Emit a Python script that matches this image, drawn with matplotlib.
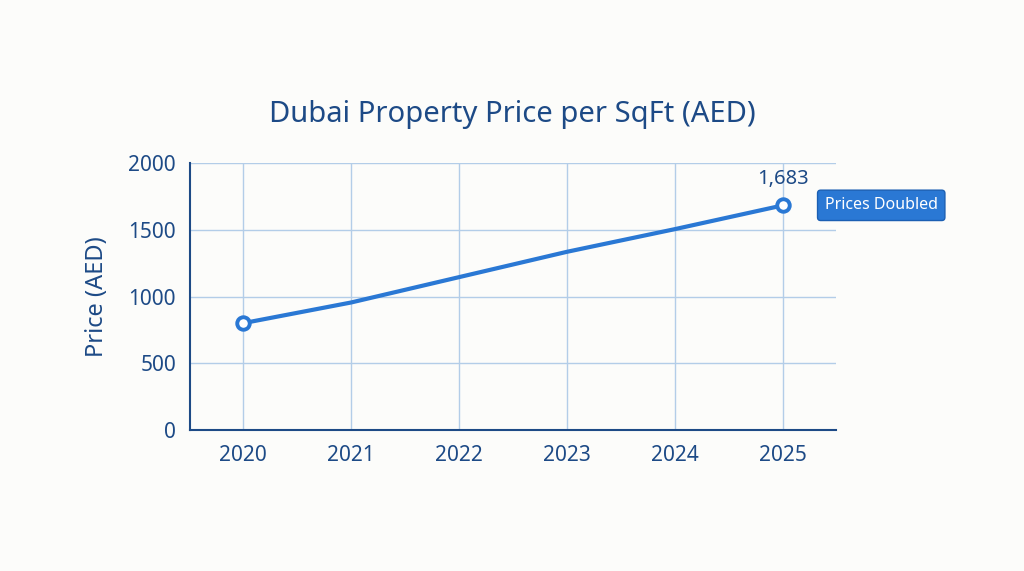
import matplotlib.pyplot as plt

# datos
years = ["2020", "2021", "2022", "2023", "2024", "2025"]
price = [800, 955, 1145, 1335, 1505, 1683]
y_ticks = [0, 500, 1000, 1500, 2000]
peak_label = "1,683"
note_text = "Prices Doubled"

BG = "#fcfcfa"
DARK = "#1d4a86"
LINE = "#2a78d4"
GRID = "#b3cde8"

plt.rcParams["font.family"] = ["Noto Sans", "DejaVu Sans"]

fig = plt.figure(figsize=(10.24, 5.71), dpi=100, facecolor=BG)
ax = fig.add_axes([0.1855, 0.2469, 0.6309, 0.4676])
ax.set_facecolor(BG)

x = list(range(len(years)))
ax.plot(x, price, color=LINE, linewidth=3, zorder=3, solid_capstyle="round")
ax.plot([x[0], x[-1]], [price[0], price[-1]], linestyle="none", marker="o",
        markersize=9, markerfacecolor="white", markeredgecolor=LINE,
        markeredgewidth=2.8, zorder=4)

ax.set_xlim(-0.49, 5.49)
ax.set_ylim(0, 2000)
ax.set_xticks(x)
ax.set_xticklabels(years)
ax.set_yticks(y_ticks)
ax.tick_params(axis="both", length=0, labelsize=15, colors=DARK)
ax.tick_params(axis="x", pad=11)
ax.tick_params(axis="y", pad=10)

ax.grid(True, color=GRID, linewidth=1)
ax.set_axisbelow(True)
for s in ["top", "right"]:
    ax.spines[s].set_visible(False)
for s in ["left", "bottom"]:
    ax.spines[s].set_color(DARK)
    ax.spines[s].set_linewidth(1.5)

ax.set_ylabel("Price (AED)", fontsize=17, color=DARK, labelpad=14)
fig.text(0.5, 0.8, "Dubai Property Price per SqFt (AED)", ha="center",
         va="center", fontsize=21, color=DARK)

ax.annotate(peak_label, (x[-1], price[-1]), xytext=(0, 12),
            textcoords="offset points", ha="center", va="bottom",
            fontsize=14.5, color=DARK)
ax.annotate(note_text, (x[-1], price[-1]), xytext=(30, 0),
            textcoords="offset points", ha="left", va="center",
            fontsize=11.5, color="white",
            bbox=dict(boxstyle="round,pad=0.45,rounding_size=0.2",
                      facecolor=LINE, edgecolor="#1b5fb3", linewidth=1))

fig.savefig("out.png", dpi=100, facecolor=BG)
